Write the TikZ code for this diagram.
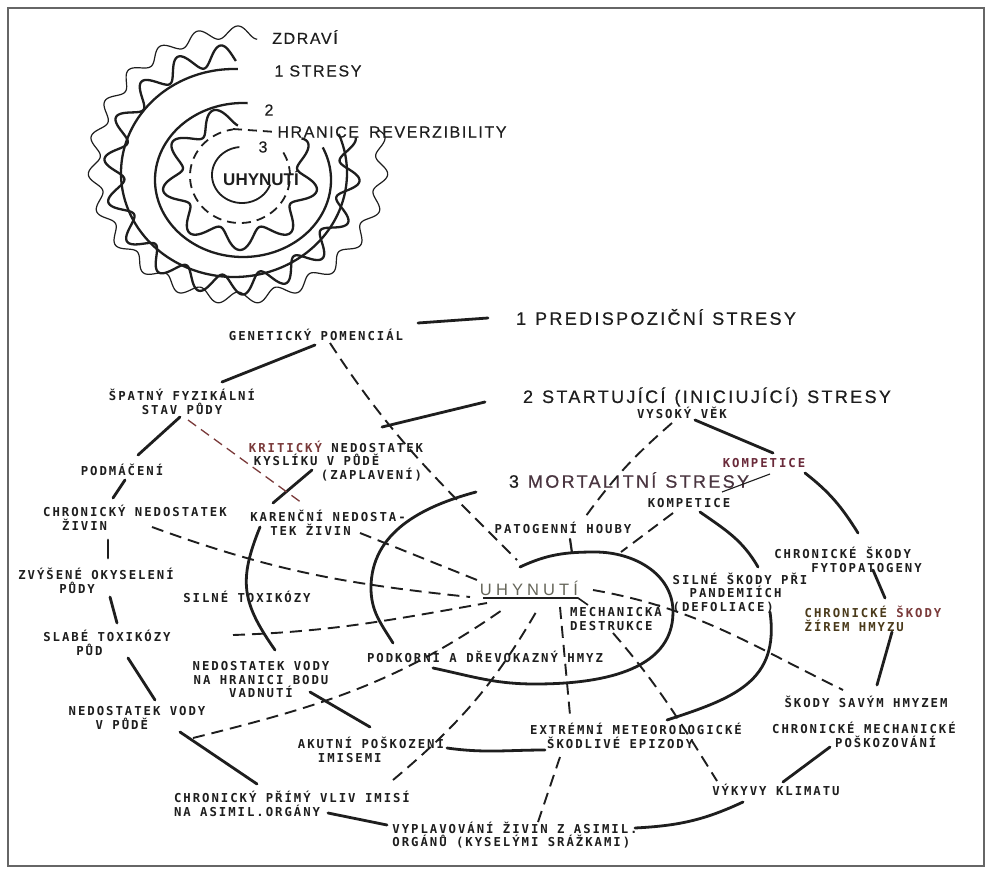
\documentclass[tikz,border=0pt]{standalone}
\usepackage{fontspec}
\newfontfamily\labfont[LetterSpace=16]{DejaVu Sans Mono}
\newfontfamily\titfont[LetterSpace=13,FakeBold=0.6]{Liberation Sans}
\newfontfamily\topfont[LetterSpace=10,FakeBold=0.4]{Liberation Sans}
\newfontfamily\uhfont[LetterSpace=25]{Liberation Sans}
\newfontfamily\plainsans{Liberation Sans}
\definecolor{ink}{HTML}{1E1E1E}
\definecolor{maroon}{HTML}{6A2A3A}
\definecolor{mort}{HTML}{4A3540}
\definecolor{olivebrown}{HTML}{4A3A1A}
\definecolor{uhgray}{HTML}{66665A}
\definecolor{rust}{HTML}{7A3A3A}
\begin{document}
\begin{tikzpicture}[x=1pt,y=-1pt,
  lab/.style={font=\labfont\bfseries\fontsize{12.3}{13.5}\selectfont, inner sep=1pt, align=center, text=ink},
  labl/.style={lab, align=left},
  tit/.style={font=\titfont\fontsize{18}{20}\selectfont, inner sep=1pt, text=ink},
  toplab/.style={font=\topfont\fontsize{16}{18}\selectfont, inner sep=1pt, text=ink},
  uhtop/.style={font=\plainsans\bfseries\fontsize{17}{19}\selectfont, inner sep=1pt, text=ink},
  uhmid/.style={font=\uhfont\fontsize{16.5}{18}\selectfont, inner sep=1pt, text=uhgray},
  ringln/.style={line width=2.8pt, draw=ink, line cap=round},
  thinln/.style={line width=1.1pt, draw=ink},
  dashln/.style={line width=1.9pt, draw=ink, dash pattern=on 12pt off 7pt},
  rustdash/.style={line width=1.3pt, draw=rust, dash pattern=on 10pt off 6pt},
  thinwave/.style={line width=1.2pt, draw=ink},
  thickwave/.style={line width=2.3pt, draw=ink},
  topdash/.style={line width=1.8pt, draw=ink, dash pattern=on 9pt off 6pt},
  frame/.style={line width=2pt, draw=black!60}
]
\useasboundingbox (0,0) rectangle (990,872);
\fill[white] (0,0) rectangle (990,872);
\draw[frame] (8,8) rectangle (984,866);

% ---------------- top diagram ----------------
\draw[thinwave] plot[domain=-15:278, samples=700, variable=\t]
  ({238+(144+6*sin(23*\t))*cos(\t)}, {165+(133+6*sin(23*\t))*sin(\t)});
\draw[thickwave] plot[domain=-15:272, samples=600, variable=\t]
  ({232+(118+10*sin(18*\t))*cos(\t)}, {170+(115+10*sin(18*\t))*sin(\t)});
\draw[thickwave] plot[domain=-22:272, samples=300, variable=\t]
  ({234+113*cos(\t)}, {173+104*sin(\t)});
\draw[thickwave] plot[domain=-25:273, samples=300, variable=\t]
  ({243+88*cos(\t)}, {180+77*sin(\t)});
\draw[thickwave] plot[domain=-35:268, samples=500, variable=\t]
  ({240+(68+10*sin(9*\t))*cos(\t)}, {178+(62+10*sin(9*\t))*sin(\t)});
\draw[topdash] plot[domain=-30:262, samples=300, variable=\t]
  ({240+50*cos(\t)}, {176+47*sin(\t)});
\draw[thickwave, line width=1.8pt] plot[domain=20:265, samples=200, variable=\t]
  ({242+30*cos(\t)}, {175+28*sin(\t)});

\node[toplab] (zdravi) at (305,37) {ZDRAVÍ};
\node[toplab] (stres1) at (318,71) {1\hspace{6pt}STRESY};
\node[toplab] (two) at (269,110) {2};
\node[toplab] (hranice) at (392,132) {HRANICE\hspace{10pt}REVERZIBILITY};
\node[toplab] (three) at (263,147) {3};
\node[uhtop] (uhtop) at (261,178) {UHYNUTÍ};
\coordinate (dcend) at (233,129);
\draw[topdash] (dcend) -- (hranice.west);

% ---------------- titles ----------------
\node[tit] (t1) at (656,317) {1\hspace{9pt}PREDISPOZIČNÍ\hspace{9pt}STRESY};
\node[tit] (t2) at (707,397) {2\hspace{9pt}STARTUJÍCÍ\hspace{9pt}(INICIUJÍCÍ)\hspace{9pt}STRESY};
\node[tit] (t3) at (629,480) {3\hspace{9pt}\textcolor{mort}{MORTALITNÍ\hspace{9pt}STRESY}};
\node[uhmid] (uhyn) at (529,588) {UHYNUTÍ};

% ---------------- labels ----------------
\node[lab] (genet) at (316,335) {GENETICKÝ POMENCIÁL};
\node[lab] (spatny) at (182,402) {ŠPATNÝ FYZIKÁLNÍ\\STAV PŮDY};
\node[lab] (podmac) at (122,470) {PODMÁČENÍ};
\node[labl] (chronziv) at (135,518) {CHRONICKÝ NEDOSTATEK\\\hspace*{19pt}ŽIVIN};
\node[labl] (zvysene) at (96,581) {ZVÝŠENÉ OKYSELENÍ\\\hspace*{41pt}PŮDY};
\node[labl] (slabe) at (107,643) {SLABÉ TOXIKÓZY\\\hspace*{33pt}PŮD};
\node[labl] (nedvodpud) at (137,718) {NEDOSTATEK VODY\\\hspace*{27pt}V PŮDĚ};
\node[labl] (chronprimy) at (292,804) {CHRONICKÝ PŘÍMÝ VLIV IMISÍ\\NA ASIMIL.ORGÁNY};
\node[labl] (vyplav) at (515,835) {VYPLAVOVÁNÍ ŽIVIN Z ASIMIL.\\ORGÁNŮ (KYSELÝMI SRÁŽKAMI)};
\node[lab] (vykyvy) at (776,790) {VÝKYVY KLIMATU};
\node[labl] (chronmech) at (864,735) {CHRONICKÉ MECHANICKÉ\\\hspace*{63pt}POŠKOZOVÁNÍ};
\node[lab] (savym) at (866,702) {ŠKODY SAVÝM HMYZEM};
\node[labl, text=olivebrown] (zirem) at (873,619) {CHRONICKÉ \textcolor{rust}{ŠKODY}\\ŽÍREM HMYZU};
\node[labl] (fyto) at (848,560) {CHRONICKÉ ŠKODY\\\hspace*{37pt}FYTOPATOGENY};
\node[lab, text=maroon] (kompout) at (764,463) {KOMPETICE};
\node[lab] (vysoky) at (682,413) {VYSOKÝ VĚK};
\node[lab] (kompin) at (689,503) {KOMPETICE};
\node[labl] (silneskody) at (740,593) {SILNÉ ŠKODY PŘI\\\hspace*{17pt}PANDEMIÍCH\\(DEFOLIACE)};
\node[lab] (patog) at (563,528) {PATOGENNÍ HOUBY};
\node[labl] (mech) at (616,618) {MECHANICKÁ\\DESTRUKCE};
\node[lab] (podkor) at (485,657) {PODKORNÍ A DŘEVOKAZNÝ HMYZ};
\node[labl] (extrem) at (636,736) {EXTRÉMNÍ METEOROLOGICKÉ\\\hspace*{17pt}ŠKODLIVÉ EPIZODY};
\node[labl] (akutni) at (371,750) {AKUTNÍ POŠKOZENÍ\\\hspace*{20pt}IMISEMI};
\node[lab] (nedhran) at (261,680) {NEDOSTATEK VODY\\NA HRANICI BODU\\VADNUTÍ};
\node[lab] (silnetox) at (247,597) {SILNÉ TOXIKÓZY};
\node[labl] (karen) at (328,523) {KARENČNÍ NEDOSTA-\\\hspace*{20pt}TEK ŽIVIN};
\node[labl] (krit) at (336,461) {\textcolor{rust}{KRITICKÝ} NEDOSTATEK\\\hspace*{5pt}KYSLÍKU V PŮDĚ\\\hspace*{72pt}(ZAPLAVENÍ)};

% ---------------- ring 1 ----------------
\draw[ringln] ([shift={(102,-12)}]genet.center) -- ([shift={(-168,1)}]t1.center);
\draw[ringln] ([shift={(-1,10)}]genet.center) -- ([shift={(40,-20)}]spatny.center);
\draw[ringln] ([shift={(-2,15)}]spatny.center) -- ([shift={(16,-15)}]podmac.center);
\draw[ringln] ([shift={(3,10)}]podmac.center) -- ([shift={(-22,-20)}]chronziv.center);
\draw[ringln] ([shift={(-27,22)}]chronziv.center) -- ([shift={(12,-23)}]zvysene.center);
\draw[ringln] ([shift={(14,16)}]zvysene.center) -- ([shift={(10,-20)}]slabe.center);
\draw[ringln] ([shift={(21,15)}]slabe.center) -- ([shift={(18,-18)}]nedvodpud.center);
\draw[ringln] ([shift={(43,14)}]nedvodpud.center) -- ([shift={(-35,-20)}]chronprimy.center);
\draw[ringln] ([shift={(36,9)}]chronprimy.center) -- ([shift={(-128,-10)}]vyplav.center);
\draw[ringln] ([shift={(120,-7)}]vyplav.center) to[out=3,in=205] ([shift={(-33,12)}]vykyvy.center);
\draw[ringln] ([shift={(7,-8)}]vykyvy.center) -- ([shift={(-34,12)}]chronmech.center);
\draw[ringln] ([shift={(11,-17)}]savym.center) -- ([shift={(19,13)}]zirem.center);
\draw[ringln] ([shift={(12,-21)}]zirem.center) -- ([shift={(25,10)}]fyto.center);
\draw[ringln] ([shift={(41,10)}]kompout.center) to[out=-38,in=122] ([shift={(10,-27)}]fyto.center);
\draw[ringln] ([shift={(9,-10)}]kompout.center) -- ([shift={(13,7)}]vysoky.center);

% ---------------- ring 2 ----------------
\draw[ringln] ([shift={(46,-34)}]krit.center) -- ([shift={(-222,5)}]t2.center);
\draw[ringln] ([shift={(-24,9)}]krit.center) -- ([shift={(-55,-20)}]karen.center);
\draw[ringln] ([shift={(-68,4)}]karen.center) to[out=-112,in=125,looseness=1.2] ([shift={(14,-30)}]nedhran.center);
\draw[ringln] ([shift={(49,12)}]nedhran.center) -- ([shift={(-1,-23)}]akutni.center);
\draw[ringln] ([shift={(76,-2)}]akutni.center) to[out=-8,in=180] ([shift={(-91,14)}]extrem.center);
\draw[ringln] ([shift={(31,-16)}]extrem.center) to[out=18,in=-82,looseness=1.2] ([shift={(30,19)}]silneskody.center);
\draw[ringln] ([shift={(11,9)}]kompin.center) to[out=-35,in=120] ([shift={(18,-26)}]silneskody.center);
\draw[thinln] ([shift={(33,-11)}]kompin.center) -- ([shift={(6,11)}]kompout.center);

% ---------------- ring 3 (spiral) ----------------
\coordinate (r3end) at (520,567);
\draw[ringln] ([shift={(-153,12)}]t3.center) to[out=195,in=90] (371,588) to[out=-90,in=122] ([shift={(-92,-14)}]podkor.center);
\draw[ringln] ([shift={(-52,11)}]podkor.center) to[out=-12,in=180] (535,684) to[out=0,in=-90] (673,612) to[out=90,in=0] (595,552) to[out=180,in=25] (r3end);
\draw[ringln, line width=2.2pt] ([shift={(7,11)}]patog.center) -- ([shift={(9,25)}]patog.center);
\draw[line width=1.6pt, draw=ink] ([shift={(-46,10)}]uhyn.center) -- ([shift={(49,10)}]uhyn.center) -- ([shift={(-28,-13)}]mech.center);

% ---------------- dashed links ----------------
\draw[dashln] ([shift={(14,8)}]genet.center) to[out=-57,in=135] ([shift={(-12,-28)}]uhyn.center);
\draw[rustdash] ([shift={(6,18)}]spatny.center) -- ([shift={(-26,-20)}]karen.center);
\draw[dashln] ([shift={(17,9)}]chronziv.center) to[out=-20,in=174] ([shift={(-59,9)}]uhyn.center);
\draw[dashln] ([shift={(32,10)}]karen.center) -- ([shift={(-52,-8)}]uhyn.center);
\draw[dashln] ([shift={(126,-8)}]slabe.center) to[out=2,in=190] ([shift={(-42,15)}]uhyn.center);
\draw[dashln] ([shift={(56,20)}]nedvodpud.center) to[out=14,in=215] ([shift={(-24,20)}]uhyn.center);
\draw[dashln] ([shift={(101,-24)}]chronprimy.center) to[out=40,in=240] ([shift={(10,19)}]uhyn.center);
\draw[dashln] ([shift={(31,19)}]uhyn.center) -- ([shift={(-66,-21)}]extrem.center);
\draw[dashln] ([shift={(-76,21)}]extrem.center) -- ([shift={(23,-13)}]vyplav.center);
\draw[dashln] ([shift={(-3,15)}]mech.center) to[out=-49,in=122] ([shift={(-59,-9)}]vykyvy.center);
\draw[dashln] ([shift={(64,2)}]uhyn.center) to[out=-10,in=154] ([shift={(-23,-12)}]savym.center);
\draw[dashln] ([shift={(-10,10)}]vysoky.center) to[out=221,in=54] ([shift={(20,-8)}]patog.center);
\draw[dashln] ([shift={(-16,10)}]kompin.center) -- ([shift={(92,-36)}]uhyn.center);
\end{tikzpicture}
\end{document}
